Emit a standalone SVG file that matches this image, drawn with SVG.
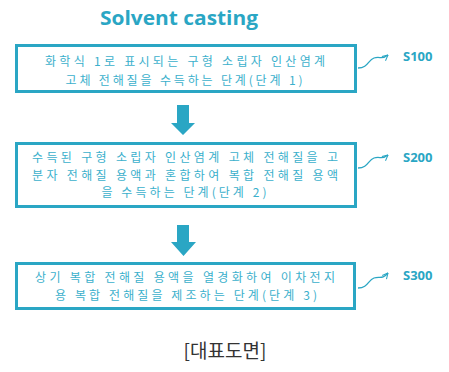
<svg xmlns="http://www.w3.org/2000/svg" width="449" height="372" viewBox="0 0 449 372">
<defs>
<style>
.box{fill:#fff;stroke:#2aa6c4;stroke-width:3}
.t{font-family:"Noto Sans CJK KR","Noto Sans",sans-serif;font-size:12px;fill:#3bb0cc;text-anchor:middle;dominant-baseline:central}
.lbl{font-family:"Open Sans","Liberation Sans",sans-serif;font-weight:bold;font-size:13px;fill:#2aa6c4;dominant-baseline:central}
.sq{fill:none;stroke:#2aa6c4;stroke-width:1.3}
.arr{fill:#2aa6c4}
</style>
<marker id="ah" viewBox="0 0 10 10" refX="9" refY="5" markerWidth="7" markerHeight="7" orient="auto" markerUnits="userSpaceOnUse">
<path d="M1,1 L9,5 L1,9" fill="none" stroke="#2aa6c4" stroke-width="1.5"/>
</marker>
</defs>
<rect width="449" height="372" fill="#fff"/>
<text x="179" y="25" font-family="Open Sans, Liberation Sans, sans-serif" font-weight="bold" font-size="19" fill="#2aa6c4" text-anchor="middle" textLength="158" lengthAdjust="spacingAndGlyphs">Solvent casting</text>
<g id="step1">
<rect class="box" x="16.5" y="45.5" width="339" height="46"/>
<text class="t" x="185" y="60" textLength="280" lengthAdjust="spacing">화학식 1로 표시되는 구형 소립자 인산염계</text>
<text class="t" x="184" y="79" textLength="237" lengthAdjust="spacing">고체 전해질을 수득하는 단계(단계 1)</text>
</g>
<g id="step2">
<rect class="box" x="16.5" y="143.5" width="339" height="63"/>
<text class="t" x="185" y="156" textLength="306" lengthAdjust="spacing">수득된 구형 소립자 인산염계 고체 전해질을 고</text>
<text class="t" x="185" y="174" textLength="306" lengthAdjust="spacing">분자 전해질 용액과 혼합하여 복합 전해질 용액</text>
<text class="t" x="184" y="191" textLength="165" lengthAdjust="spacing">을 수득하는 단계(단계 2)</text>
</g>
<g id="step3">
<rect class="box" x="16.5" y="263.5" width="338" height="45"/>
<text class="t" x="185" y="276" textLength="300" lengthAdjust="spacing">상기 복합 전해질 용액을 열경화하여 이차전지</text>
<text class="t" x="186" y="294" textLength="262" lengthAdjust="spacing">용 복합 전해질을 제조하는 단계(단계 3)</text>
</g>
<g id="labels">
<text class="lbl" x="403" y="56">S100</text>
<text class="lbl" x="403" y="157">S200</text>
<text class="lbl" x="403" y="275">S300</text>
</g>
<g id="connectors">
<path class="arr" d="M177,105 H189 V123 H195 L183,135 L171,123 H177 Z"/>
<path class="arr" d="M177,225 H189 V242 H196 L183.5,256 L171,242 H177 Z"/>
<path class="sq" d="M358,68 C368,68 368,60 374,58 C380,56 382,60 388,55" marker-end="url(#ah)"/>
<path class="sq" d="M358,168 C368,168 368,160 374,158 C380,156 382,160 388,155" marker-end="url(#ah)"/>
<path class="sq" d="M358,288 C368,288 368,280 374,278 C380,276 382,280 388,273" marker-end="url(#ah)"/>
</g>
<text x="225" y="358" font-family="Noto Sans CJK KR, sans-serif" font-size="19" fill="#333" text-anchor="middle">[대표도면]</text>
</svg>
